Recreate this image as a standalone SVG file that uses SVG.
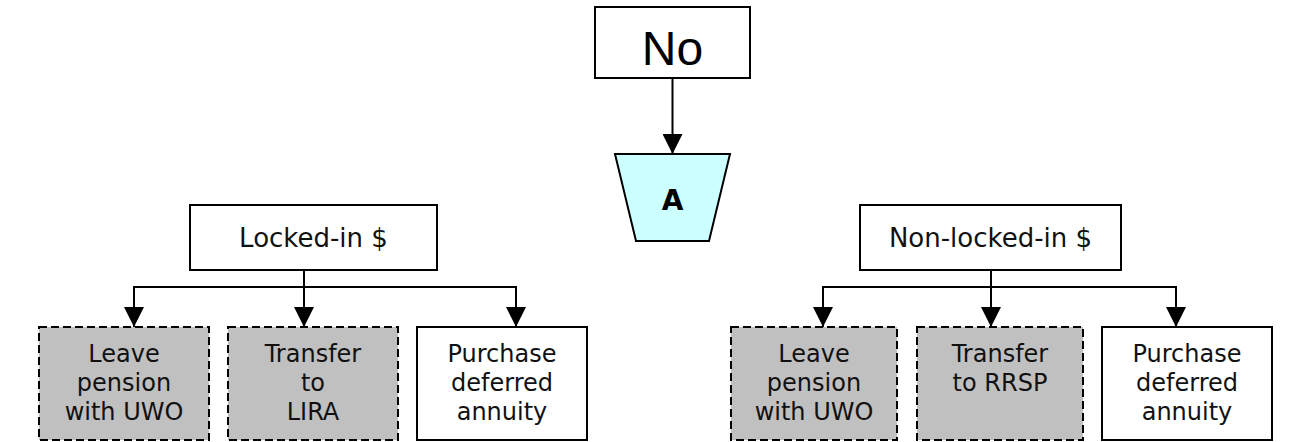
<svg xmlns="http://www.w3.org/2000/svg" width="1309" height="442" viewBox="0 0 1309 442">
<defs>
<marker id="ah" markerWidth="20" markerHeight="20" viewBox="0 0 20 20" refX="20" refY="10" orient="auto" markerUnits="userSpaceOnUse">
<path d="M0,0 L20,10 L0,20 Z" fill="#000"/>
</marker>
<style>
.box{fill:#fff;stroke:#000;stroke-width:2}
.dash{fill:#c0c0c0;stroke:#000;stroke-width:2;stroke-dasharray:8 4}
.t{font-family:"DejaVu Sans",Verdana,sans-serif;font-size:24px;fill:#111;text-anchor:middle}
.m{font-family:"DejaVu Sans",Verdana,sans-serif;font-size:26px;fill:#111;text-anchor:middle}
.c{fill:none;stroke:#000;stroke-width:2}
</style>
</defs>
<rect width="1309" height="442" fill="#fff"/>
<g id="connectors">
<line class="c" x1="672.5" y1="78" x2="672.5" y2="154" marker-end="url(#ah)"/>
<line class="c" x1="304" y1="270" x2="304" y2="327" marker-end="url(#ah)"/>
<line class="c" x1="133" y1="287" x2="517" y2="287"/>
<line class="c" x1="134" y1="287" x2="134" y2="327" marker-end="url(#ah)"/>
<line class="c" x1="516" y1="287" x2="516" y2="327" marker-end="url(#ah)"/>
<line class="c" x1="991" y1="270" x2="991" y2="327" marker-end="url(#ah)"/>
<line class="c" x1="822" y1="287" x2="1177" y2="287"/>
<line class="c" x1="823" y1="287" x2="823" y2="327" marker-end="url(#ah)"/>
<line class="c" x1="1176" y1="287" x2="1176" y2="327" marker-end="url(#ah)"/>
</g>
<g id="no">
<rect class="box" x="595" y="7" width="155" height="71"/>
<text x="672.5" y="65" style="font-family:'Liberation Sans',Arial,sans-serif;font-size:48px;fill:#000;text-anchor:middle">No</text>
</g>
<g id="a">
<polygon points="615,154 730,154 709,241 636,241" fill="#ccffff" stroke="#000" stroke-width="2"/>
<text x="672.5" y="210" style="font-family:'DejaVu Sans',Verdana,sans-serif;font-weight:bold;font-size:28px;fill:#000;text-anchor:middle">A</text>
</g>
<g id="locked">
<rect class="box" x="190" y="205" width="247" height="65"/>
<text class="m" x="313.5" y="247">Locked-in $</text>
</g>
<g id="nonlocked">
<rect class="box" x="860" y="205" width="261" height="65"/>
<text class="m" x="990.5" y="247">Non-locked-in $</text>
</g>
<g id="l1">
<rect class="dash" x="39" y="327" width="170" height="113"/>
<text class="t" x="124" y="362">Leave</text>
<text class="t" x="124" y="391">pension</text>
<text class="t" x="124" y="420">with UWO</text>
</g>
<g id="l2">
<rect class="dash" x="228" y="327" width="170" height="113"/>
<text class="t" x="313" y="362">Transfer</text>
<text class="t" x="313" y="391">to</text>
<text class="t" x="313" y="420">LIRA</text>
</g>
<g id="l3">
<rect class="box" x="417" y="327" width="170" height="113"/>
<text class="t" x="502" y="362">Purchase</text>
<text class="t" x="502" y="391">deferred</text>
<text class="t" x="502" y="420">annuity</text>
</g>
<g id="r1">
<rect class="dash" x="731" y="327" width="166" height="113"/>
<text class="t" x="814" y="362">Leave</text>
<text class="t" x="814" y="391">pension</text>
<text class="t" x="814" y="420">with UWO</text>
</g>
<g id="r2">
<rect class="dash" x="917" y="327" width="166" height="113"/>
<text class="t" x="1000" y="362">Transfer</text>
<text class="t" x="1000" y="391">to RRSP</text>
</g>
<g id="r3">
<rect class="box" x="1102" y="327" width="170" height="113"/>
<text class="t" x="1187" y="362">Purchase</text>
<text class="t" x="1187" y="391">deferred</text>
<text class="t" x="1187" y="420">annuity</text>
</g>
</svg>
